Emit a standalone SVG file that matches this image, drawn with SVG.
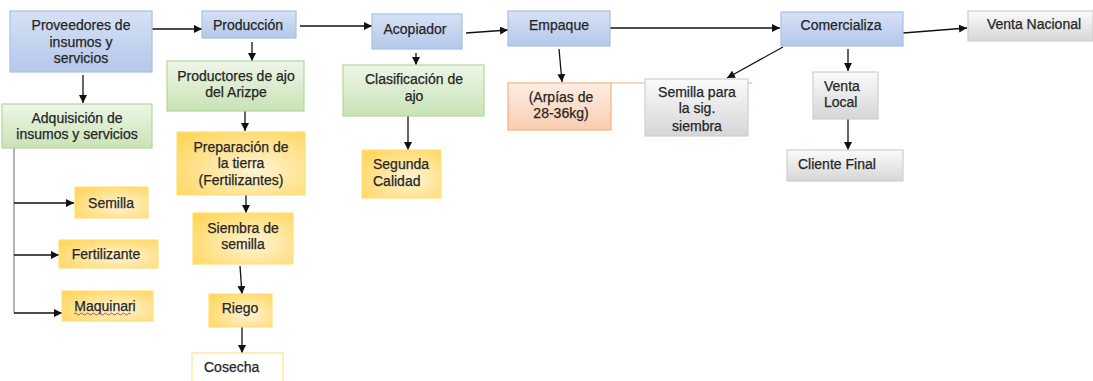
<svg xmlns="http://www.w3.org/2000/svg" width="1093" height="381" viewBox="0 0 1093 381">
<defs>
<linearGradient id="gBlue" x1="0" y1="0" x2="0" y2="1"><stop offset="0" stop-color="#d6e1f5"/><stop offset="1" stop-color="#b4c8ea"/></linearGradient>
<linearGradient id="gGreen" x1="0" y1="0" x2="0" y2="1"><stop offset="0" stop-color="#eef6e8"/><stop offset="1" stop-color="#c8e3b6"/></linearGradient>
<radialGradient id="gYellow" cx="0.6" cy="0.6" r="0.75"><stop offset="0" stop-color="#fff4d6"/><stop offset="1" stop-color="#ffd65c"/></radialGradient>
<linearGradient id="gOrange" x1="0" y1="0" x2="0" y2="1"><stop offset="0" stop-color="#fdeee4"/><stop offset="1" stop-color="#f9cdb0"/></linearGradient>
<linearGradient id="gGray" x1="0" y1="0" x2="0" y2="1"><stop offset="0" stop-color="#fbfbfb"/><stop offset="1" stop-color="#d6d6d6"/></linearGradient>
<marker id="arr" viewBox="0 0 10 10" refX="10" refY="5" markerWidth="8" markerHeight="8" markerUnits="userSpaceOnUse" orient="auto"><path d="M0,0 L10,5 L0,10 z" fill="#111"/></marker>
</defs>
<style>
.blue{fill:url(#gBlue);stroke:#a9c0e6;stroke-width:1.2}
.green{fill:url(#gGreen);stroke:#b3d89a;stroke-width:1.2}
.yellow{fill:url(#gYellow);stroke:#ffdf7a;stroke-width:1.2}
.orange{fill:url(#gOrange);stroke:#f4b183;stroke-width:1.2}
.gray{fill:url(#gGray);stroke:#cfcfcf;stroke-width:1.2}
.white{fill:#fff;stroke:#ffe38a;stroke-width:1.2}
text{font-family:"Liberation Sans",Arial,sans-serif;font-size:14px;fill:#262626;stroke:#262626;stroke-width:0.25}
.c{text-anchor:middle}
.ln{fill:none;stroke:#111;stroke-width:1.3}
</style>
<rect width="1093" height="381" fill="#fff"/>
<g id="connectors">
<line class="ln" x1="152" y1="29" x2="202" y2="29" marker-end="url(#arr)"/>
<line class="ln" x1="83" y1="75" x2="83" y2="103" marker-end="url(#arr)"/>
<line class="ln" x1="252" y1="42" x2="252" y2="61" marker-end="url(#arr)"/>
<line class="ln" x1="245" y1="111" x2="245" y2="131" marker-end="url(#arr)"/>
<line x1="14" y1="148" x2="14" y2="313" stroke="#8c8c8c" stroke-width="1.3"/>
<line class="ln" x1="14" y1="203" x2="74" y2="203" marker-end="url(#arr)"/>
<line class="ln" x1="14" y1="255" x2="59" y2="255" marker-end="url(#arr)"/>
<line class="ln" x1="14" y1="313" x2="62" y2="313" marker-end="url(#arr)"/>
<line class="ln" x1="246" y1="195" x2="246" y2="213" marker-end="url(#arr)"/>
<line class="ln" x1="240" y1="266" x2="242" y2="294" marker-end="url(#arr)"/>
<line class="ln" x1="242" y1="327" x2="242" y2="353" marker-end="url(#arr)"/>
<line class="ln" x1="300" y1="26" x2="372" y2="26" marker-end="url(#arr)"/>
<line class="ln" x1="466" y1="33" x2="508" y2="30" marker-end="url(#arr)"/>
<line class="ln" x1="416" y1="53" x2="416" y2="65" marker-end="url(#arr)"/>
<line class="ln" x1="408" y1="116" x2="408" y2="150" marker-end="url(#arr)"/>
<line class="ln" x1="559" y1="49" x2="562" y2="82" marker-end="url(#arr)"/>
<line x1="611" y1="83" x2="752" y2="83" stroke="#f4b183" stroke-width="1.2"/>
<line class="ln" x1="610" y1="28" x2="780" y2="28" marker-end="url(#arr)"/>
<line class="ln" x1="903" y1="33" x2="967" y2="28" marker-end="url(#arr)"/>
<line class="ln" x1="783" y1="47" x2="727" y2="78" marker-end="url(#arr)"/>
<line class="ln" x1="848" y1="49" x2="848" y2="71" marker-end="url(#arr)"/>
<line class="ln" x1="848" y1="119" x2="848" y2="150" marker-end="url(#arr)"/>
</g>
<g id="proveedores"><rect class="blue" x="10" y="11" width="142" height="61"/>
<text class="c" x="81" y="30">Proveedores de</text><text class="c" x="81" y="47">insumos y</text><text class="c" x="81" y="63">servicios</text></g>
<g id="produccion"><rect class="blue" x="202" y="11" width="94" height="27"/><text class="c" x="248" y="30">Producción</text></g>
<g id="adquisicion"><rect class="green" x="2" y="104" width="150" height="44"/>
<text class="c" x="77" y="123">Adquisición de</text><text class="c" x="77" y="139">insumos y servicios</text></g>
<g id="productores"><rect class="green" x="167" y="61" width="137" height="50"/>
<text class="c" x="236" y="81">Productores de ajo</text><text class="c" x="236" y="97">del Arizpe</text></g>
<g id="preparacion"><rect class="yellow" x="177" y="132" width="128" height="63"/>
<text class="c" x="241" y="152">Preparación de</text><text class="c" x="241" y="168">la tierra</text><text class="c" x="241" y="185">(Fertilizantes)</text></g>
<g id="semilla"><rect class="yellow" x="75" y="187" width="73" height="31"/><text class="c" x="111" y="208">Semilla</text></g>
<g id="fertilizante"><rect class="yellow" x="59" y="240" width="99" height="28"/><text class="c" x="106" y="259">Fertilizante</text></g>
<g id="maquinari"><rect class="yellow" x="62" y="291" width="91" height="30"/><text class="c" x="105" y="311">Maquinari</text>
<path d="M74,314 q1.5,-2 3,0 t3,0 t3,0 t3,0 t3,0 t3,0 t3,0 t3,0 t3,0 t3,0 t3,0 t3,0 t3,0 t3,0 t3,0 t3,0 t3,0 t3,0 t3,0" fill="none" stroke="#e03030" stroke-width="0.9"/></g>
<g id="siembra"><rect class="yellow" x="193" y="213" width="100" height="51"/>
<text class="c" x="243" y="233">Siembra de</text><text class="c" x="243" y="249">semilla</text></g>
<g id="riego"><rect class="yellow" x="209" y="294" width="63" height="33"/><text class="c" x="240" y="313">Riego</text></g>
<g id="cosecha"><rect class="white" x="192" y="353" width="91" height="34"/><text x="204" y="372">Cosecha</text></g>
<g id="acopiador"><rect class="blue" x="372" y="14" width="90" height="35"/><text class="c" x="415" y="34">Acopiador</text></g>
<g id="clasificacion"><rect class="green" x="343" y="65" width="141" height="51"/>
<text class="c" x="414" y="84">Clasificación de</text><text class="c" x="414" y="101">ajo</text></g>
<g id="segunda"><rect class="yellow" x="362" y="150" width="79" height="48"/>
<text x="373" y="169">Segunda</text><text x="373" y="186">Calidad</text></g>
<g id="empaque"><rect class="blue" x="508" y="11" width="102" height="35"/><text class="c" x="559" y="30">Empaque</text></g>
<g id="arpias"><rect class="orange" x="508" y="83" width="103" height="47"/>
<text class="c" x="561" y="102">(Arpías de</text><text class="c" x="561" y="118">28-36kg)</text></g>
<g id="semillapara"><rect class="gray" x="645" y="79" width="103" height="57"/>
<text class="c" x="697" y="97">Semilla para</text><text class="c" x="697" y="113">la sig.</text><text class="c" x="697" y="131">siembra</text></g>
<g id="comercializa"><rect class="blue" x="781" y="12" width="122" height="34"/><text class="c" x="841" y="30">Comercializa</text></g>
<g id="ventanacional"><rect class="gray" x="968" y="11" width="125" height="30"/><text class="c" x="1034" y="29">Venta Nacional</text></g>
<g id="ventalocal"><rect class="gray" x="813" y="72" width="65" height="47"/>
<text x="824" y="91">Venta</text><text x="824" y="107">Local</text></g>
<g id="clientefinal"><rect class="gray" x="787" y="150" width="116" height="31"/><text x="798" y="169">Cliente Final</text></g>
</svg>
